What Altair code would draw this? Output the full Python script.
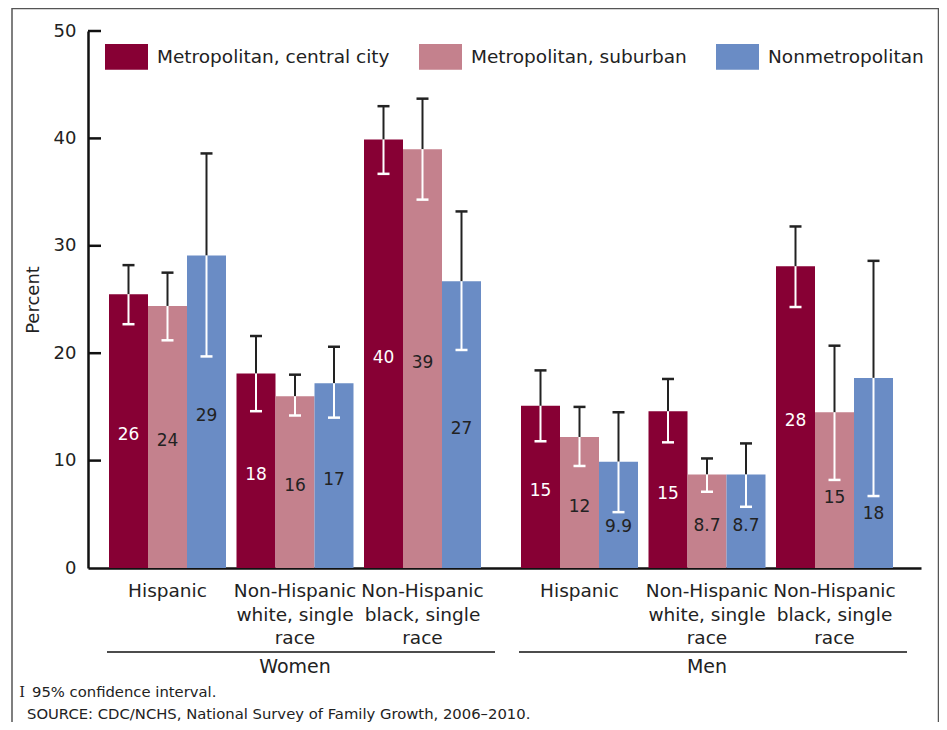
import altair as alt
import pandas as pd

# ---------------- data ----------------
SEXES = ["Women", "Men"]
GROUPS = ["Hispanic",
          "Non-Hispanic\nwhite, single\nrace",
          "Non-Hispanic\nblack, single\nrace"]
SERIES = ["Metropolitan, central city", "Metropolitan, suburban", "Nonmetropolitan"]
COLORS = ["#870034", "#C4818D", "#6A8CC5"]

# order: Women (Hisp, White, Black), Men (Hisp, White, Black)
CENTRAL = [25.5, 18.1, 39.9, 15.1, 14.6, 28.1]
CENTRAL_LO = [22.7, 14.6, 36.7, 11.8, 11.7, 24.3]
CENTRAL_HI = [28.2, 21.6, 43.0, 18.4, 17.6, 31.8]
CENTRAL_LABELS = ["26", "18", "40", "15", "15", "28"]

SUBURBAN = [24.4, 16.0, 39.0, 12.2, 8.7, 14.5]
SUBURBAN_LO = [21.2, 14.2, 34.3, 9.5, 7.1, 8.2]
SUBURBAN_HI = [27.5, 18.0, 43.7, 15.0, 10.2, 20.7]
SUBURBAN_LABELS = ["24", "16", "39", "12", "8.7", "15"]

NONMETRO = [29.1, 17.2, 26.7, 9.9, 8.7, 17.7]
NONMETRO_LO = [19.7, 14.0, 20.3, 5.2, 5.7, 6.7]
NONMETRO_HI = [38.6, 20.6, 33.2, 14.5, 11.6, 28.6]
NONMETRO_LABELS = ["29", "17", "27", "9.9", "8.7", "18"]

Y_TICKS = [0, 10, 20, 30, 40, 50]
FOOTNOTE = "95% confidence interval."
SOURCE = "SOURCE: CDC/NCHS, National Survey of Family Growth, 2006\u20132010."

# ---------------- layout ----------------
W, H = 833, 537
STEP, FIRST, SEX_GAP, BAR, CAP = 127.5, 79.5, 29.5, 39, 12
FONT = "DejaVu Sans"
INK = "#222222"

series_vals = [
    (CENTRAL, CENTRAL_LO, CENTRAL_HI, CENTRAL_LABELS),
    (SUBURBAN, SUBURBAN_LO, SUBURBAN_HI, SUBURBAN_LABELS),
    (NONMETRO, NONMETRO_LO, NONMETRO_HI, NONMETRO_LABELS),
]

rows, cats = [], []
for k in range(6):
    si = k // 3
    gi = k % 3
    center = FIRST + STEP * k + SEX_GAP * si
    cats.append({"sex": SEXES[si], "cat": GROUPS[gi], "xc": center, "zero": 0})
    for j, (v, lo, hi, lab) in enumerate(series_vals):
        xc = center + (j - 1) * BAR
        ly = max(3.85, min(v[k] / 2 - 0.4, lo[k] - 1.7))
        rows.append({
            "sex": SEXES[si], "series": SERIES[j], "value": v[k], "lo": lo[k], "hi": hi[k],
            "label": lab[k], "xc": xc, "xl": xc - BAR / 2, "xr": xc + BAR / 2,
            "cl": xc - CAP / 2, "cr": xc + CAP / 2, "zero": 0,
            "ly": ly, "tcolor": "white" if j == 0 else INK,
        })
df = pd.DataFrame(rows)
cat_df = pd.DataFrame(cats)

sex_rows = []
for s in SEXES:
    sub = df[df["sex"] == s]
    mid = cat_df[cat_df["sex"] == s]["xc"].iloc[1]
    sex_rows.append({"sex": s, "x1": sub["xl"].min() - 2, "x2": sub["xr"].max() + 14, "xm": mid})
sex_df = pd.DataFrame(sex_rows)

xs = alt.Scale(domain=[0, W], nice=False, zero=False)
ys = alt.Scale(domain=[0, 50], nice=False)
X_AXIS = alt.Axis(labels=False, ticks=False, grid=False, title=None,
                  domainColor="#111", domainWidth=2.5)
Y_AXIS = alt.Axis(values=Y_TICKS, ticks=False, tickSize=0, grid=False,
                  domainColor="#111", domainWidth=2.5,
                  labelFontSize=18, labelColor=INK, labelPadding=12, labelFont=FONT,
                  title="Percent", titleFontSize=18, titleFontWeight="normal",
                  titleColor=INK, titleFont=FONT, titlePadding=11)


def X(f):
    return alt.X(f, scale=xs, axis=X_AXIS)


def Y(f):
    return alt.Y(f, scale=ys, axis=Y_AXIS)


base = alt.Chart(df)

bars = base.mark_bar().encode(
    x=X("xl:Q"), x2="xr:Q", y=Y("value:Q"), y2="zero:Q",
    color=alt.Color("series:N", sort=SERIES,
                    scale=alt.Scale(domain=SERIES, range=COLORS),
                    legend=alt.Legend(orient="none", legendX=17, legendY=4, direction="horizontal",
                                      title=None, symbolType="M-1,-0.6L1,-0.6L1,0.6L-1,0.6Z",
                                      symbolSize=1849, symbolStrokeWidth=0, symbolOpacity=1,
                                      labelFontSize=18.5, labelFont=FONT, labelColor=INK,
                                      labelOffset=9, columnPadding=29, labelLimit=400)),
)

err_up = base.mark_rule(color=INK, strokeWidth=2).encode(x=X("xc:Q"), y=Y("value:Q"), y2="hi:Q")
cap_up = base.mark_rule(color=INK, strokeWidth=2.5).encode(x=X("cl:Q"), x2="cr:Q", y=Y("hi:Q"))
err_dn = base.mark_rule(color="white", strokeWidth=2).encode(x=X("xc:Q"), y=Y("lo:Q"), y2="value:Q")
cap_dn = base.mark_rule(color="white", strokeWidth=2.5).encode(x=X("cl:Q"), x2="cr:Q", y=Y("lo:Q"))

vlabels = base.mark_text(font=FONT, fontSize=17, baseline="middle", align="center").encode(
    x=X("xc:Q"), y=Y("ly:Q"), text="label:N", color=alt.Color("tcolor:N", scale=None))

ticks = alt.Chart(pd.DataFrame({"t": Y_TICKS[1:]})).mark_rule(color="#111", strokeWidth=2.5).encode(
    x=alt.value(0), x2=alt.value(13), y=Y("t:Q"))

cat_text = alt.Chart(cat_df).mark_text(font=FONT, fontSize=18.5, color=INK, baseline="top",
                                       align="center", lineBreak="\n", lineHeight=23.5,
                                       dy=14).encode(
    x=X("xc:Q"), y=Y("zero:Q"), text="cat:N")

sex_lines = alt.Chart(sex_df).mark_rule(color="#111", strokeWidth=1.5).encode(
    x=X("x1:Q"), x2="x2:Q", y=alt.value(621))
sex_text = alt.Chart(sex_df).mark_text(font=FONT, fontSize=19, color=INK, baseline="middle",
                                       align="center").encode(
    x=X("xm:Q"), y=alt.value(636), text="sex:N")

notes = pd.DataFrame({"t": [FOOTNOTE, SOURCE]})
note1 = alt.Chart(notes.iloc[[0]]).mark_text(font=FONT, fontSize=14.8, color=INK, align="left",
                                             baseline="middle").encode(
    x=alt.value(-56), y=alt.value(662), text="t:N")
ibeam = alt.Chart(pd.DataFrame({"t": ["I"]})).mark_text(font="DejaVu Serif", fontSize=14.5,
                                                        color=INK, align="center",
                                                        baseline="middle").encode(
    x=alt.value(-66), y=alt.value(662), text="t:N")
note2 = alt.Chart(notes.iloc[[1]]).mark_text(font=FONT, fontSize=14.8, color=INK, align="left",
                                             baseline="middle").encode(
    x=alt.value(-61), y=alt.value(684), text="t:N")

border = alt.Chart(pd.DataFrame({"a": [0]})).mark_rect(filled=False, stroke="#555",
                                                      strokeWidth=1.5).encode(
    x=alt.value(-76), x2=alt.value(850.5), y=alt.value(-22.5), y2=alt.value(720))

chart = alt.layer(
    border, bars, err_up, cap_up, err_dn, cap_dn, vlabels, ticks,
    cat_text, sex_lines, sex_text, ibeam, note1, note2,
).properties(
    width=W, height=H,
    autosize=alt.AutoSizeParams(type="none"),
    padding={"left": 80, "top": 23, "right": 18, "bottom": 154},
).configure(background="white", view=alt.ViewConfig(strokeWidth=0))

chart.save("out.html", embed_options={"renderer": "svg", "actions": False})
